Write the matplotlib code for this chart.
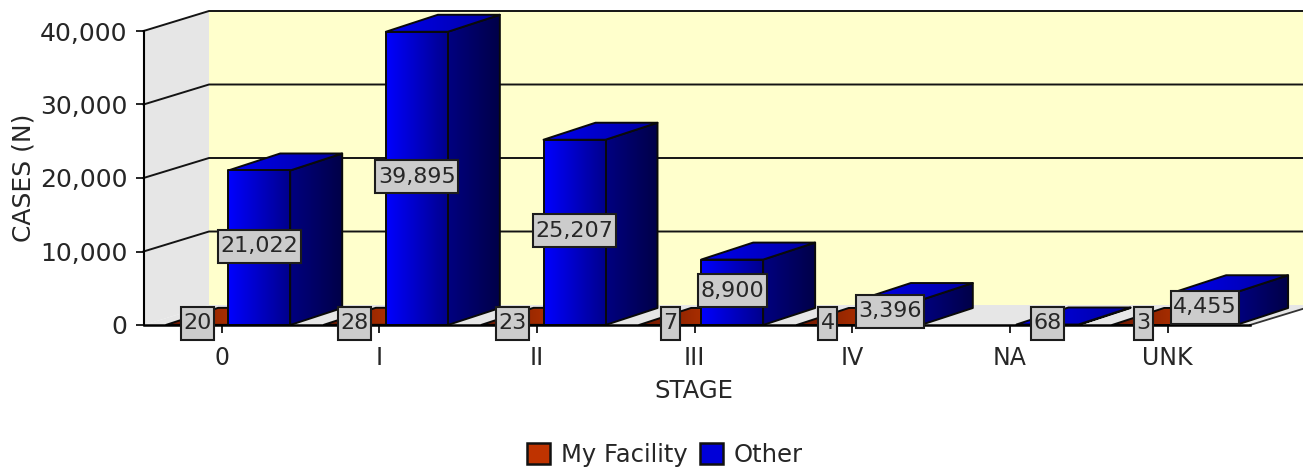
import numpy as np
import matplotlib
matplotlib.use('Agg')
import matplotlib.pyplot as plt
from matplotlib.patches import Polygon, Rectangle, Patch
from matplotlib.transforms import IdentityTransform

# --- data ---
stages = ['0', 'I', 'II', 'III', 'IV', 'NA', 'UNK']
my_facility = [20, 28, 23, 7, 4, 0, 3]
other = [21022, 39895, 25207, 8900, 3396, 68, 4455]
y_ticks = [0, 10000, 20000, 30000, 40000]

# --- layout, in pixels of the 1303x470 picture ---
W, H = 1303, 470
AX_L, AX_R, AX_T, AX_B = 143.5, 1250.0, 31.0, 325.0
TICK0, CAT_PX = 221.7, 157.65
PX_PER_VAL = (AX_B - AX_T) / 40000

# 3d depth, converted to data units
WALL_DX, WALL_DY = 65.5 / CAT_PX, 20 / PX_PER_VAL
BAR_DX, BAR_DY = 52 / CAT_PX, 17 / PX_PER_VAL
BAR_W = 62 / CAT_PX
BLUE_OFF = 6.5 / CAT_PX
RED_OFF = BLUE_OFF - BAR_W

TEXT = '#262626'
EDGE = '#0a0a0a'

# gradient colours per series: front, side, top (left to right)
RED_COLS = {'front': ('#d84000', '#802000'), 'side': ('#701800', '#400c00'),
            'top': ('#701800', '#d84000')}
BLUE_COLS = {'front': ('#0000ff', '#00008c'), 'side': ('#000080', '#000048'),
             'top': ('#0000f0', '#0000a0')}


def hex_rgb(c):
    return np.array(matplotlib.colors.to_rgb(c))


def shade(ax, pts, cols, z):
    # fills a polygon with a left to right gradient
    xs = [p[0] for p in pts]
    ys = [p[1] for p in pts]
    t = np.linspace(0, 1, 64)[None, :, None]
    grad = hex_rgb(cols[0]) * (1 - t) + hex_rgb(cols[1]) * t
    im = ax.imshow(grad, extent=(min(xs), max(xs), min(ys), max(ys)),
                   aspect='auto', origin='lower', zorder=z, interpolation='bilinear')
    im.set_clip_box(fig.bbox)
    im.set_clip_path(Polygon(pts, transform=ax.transData))
    ax.add_patch(Polygon(pts, fill=False, ec=EDGE, lw=1.4, clip_on=False, zorder=z + 0.1,
                         joinstyle='round'))


def bar3d(ax, x, val, cols, z):
    x1 = x + BAR_W
    front = [(x, 0), (x1, 0), (x1, val), (x, val)]
    side = [(x1, 0), (x1 + BAR_DX, BAR_DY), (x1 + BAR_DX, val + BAR_DY), (x1, val)]
    top = [(x, val), (x1, val), (x1 + BAR_DX, val + BAR_DY), (x + BAR_DX, val + BAR_DY)]
    shade(ax, side, cols['side'], z)
    shade(ax, top, cols['top'], z + 0.2)
    shade(ax, front, cols['front'], z + 0.4)


def value_label(ax, x, val, renderer):
    t = ax.text(x, val / 2, f'{val:,}', ha='center', va='center', fontsize=16,
                color=TEXT, zorder=51, clip_on=False)
    box = t.get_window_extent(renderer)
    px, py = ax.transData.transform((x, val / 2))
    py += 1.5
    t.set_position(ax.transData.inverted().transform((px, py)))
    w = box.width + 5
    ax.add_patch(Rectangle((px - w / 2, py - 16.5), w, 33, transform=IdentityTransform(),
                           fc='#cccccc', ec='#1c1c1c', lw=1.5, zorder=50, clip_on=False))


fig = plt.figure(figsize=(W / 100, H / 100), dpi=100)
ax = fig.add_axes([AX_L / W, 1 - AX_B / H, (AX_R - AX_L) / W, (AX_B - AX_T) / H])
x_lim = ((AX_L - TICK0) / CAT_PX, (AX_R - TICK0) / CAT_PX)
ax.set_facecolor('none')

# walls and floor
x0, x9 = x_lim
ymax = y_ticks[-1]
ax.add_patch(Polygon([(x0 + WALL_DX, WALL_DY), (x9 + WALL_DX, WALL_DY),
                      (x9 + WALL_DX, ymax + WALL_DY), (x0 + WALL_DX, ymax + WALL_DY)],
                     fc='#ffffcc', ec='none', clip_on=False, zorder=1))
ax.add_patch(Polygon([(x0, 0), (x0 + WALL_DX, WALL_DY), (x0 + WALL_DX, ymax + WALL_DY), (x0, ymax)],
                     fc='#e6e6e6', ec='none', clip_on=False, zorder=1))
ax.add_patch(Polygon([(x0, 0), (x9, 0), (x9 + WALL_DX, WALL_DY), (x0 + WALL_DX, WALL_DY)],
                     fc='#e6e6e6', ec='none', clip_on=False, zorder=1))
ax.plot([x9, x9 + WALL_DX], [0, WALL_DY], color='#333333', lw=1.3, clip_on=False, zorder=2)

# grid lines, along the side wall then the back wall
for v in y_ticks[1:]:
    ax.plot([x0, x0 + WALL_DX, x9 + WALL_DX], [v, v + WALL_DY, v + WALL_DY],
            color='#141414', lw=1.4, clip_on=False, zorder=2)

# bars, painted left to right
for i in range(len(stages)):
    z = 5 + i * 2
    if my_facility[i] > 0:
        bar3d(ax, i + RED_OFF, my_facility[i], RED_COLS, z)
    bar3d(ax, i + BLUE_OFF, other[i], BLUE_COLS, z + 1)

ax.set_xlim(x_lim)
ax.set_ylim(0, ymax)

# axes
for s in ['top', 'right']:
    ax.spines[s].set_visible(False)
ax.spines['left'].set_linewidth(1.5)
ax.spines['bottom'].set_linewidth(1.8)
ax.spines['left'].set_zorder(30)
ax.spines['bottom'].set_zorder(30)
ax.set_axisbelow(False)
ax.set_xticks(range(len(stages)), stages)
ax.set_yticks(y_ticks, [f'{v:,}' for v in y_ticks])
ax.tick_params(axis='x', length=6, width=1.2, pad=9, labelsize=17, labelcolor=TEXT)
ax.tick_params(axis='y', length=6, width=1.2, pad=5.5, labelsize=18, labelcolor=TEXT)
ax.set_xlabel('STAGE', fontsize=17.5, color=TEXT)
ax.set_ylabel('CASES (N)', fontsize=18, color=TEXT)
ax.xaxis.set_label_coords((694 - AX_L) / (AX_R - AX_L), -(379 - AX_B) / (AX_B - AX_T))
ax.yaxis.set_label_coords((35 - AX_L) / (AX_R - AX_L), 0.5)

# value labels on top of everything
renderer = fig.canvas.get_renderer()
for i in range(len(stages)):
    if my_facility[i] > 0:
        value_label(ax, i + RED_OFF + BAR_W / 2, my_facility[i], renderer)
    value_label(ax, i + BLUE_OFF + BAR_W / 2, other[i], renderer)

handles = [Patch(fc='#bf3300', ec='#111111', lw=1.8), Patch(fc='#0000d8', ec='#111111', lw=1.8)]
fig.legend(handles, ['My Facility', 'Other'], loc='center', bbox_to_anchor=(665 / W, 1 - 455 / H),
           ncol=2, frameon=False, fontsize=17.5, labelcolor=TEXT, handlelength=0.95, handleheight=0.95,
           handletextpad=0.45, columnspacing=0.5, borderpad=0, borderaxespad=0)

fig.savefig('out.png', dpi=100, facecolor='white')
